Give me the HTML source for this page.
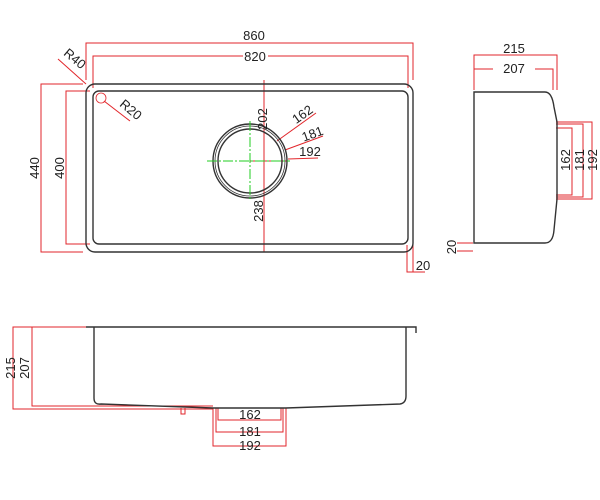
<!DOCTYPE html>
<html><head><meta charset="utf-8"><style>body{margin:0;background:#fff}svg{display:block}text{font-family:"Liberation Sans",sans-serif;font-size:13px;fill:#222}</style></head><body>
<svg width="600" height="500" viewBox="0 0 600 500">
<g fill="none" stroke="#e2262b" stroke-width="1">
<!-- top view dims -->
<path d="M86 80V43H413V80"/>
<path d="M93 88V56H243M268 56H408V88"/>
<path d="M83 84H41V252H83"/>
<path d="M90 91H66V244H90"/>
<path d="M58 59L86 84"/>
<path d="M104 101L130 121"/>
<path d="M264 80V252"/>
<path d="M250 161H290"/>
<path d="M277 141L316 113M285 150L323 136M288 159L318 158"/>
<path d="M407 245V272H425M413 245V272"/>
<!-- side view dims -->
<path d="M474 90V55H557V90"/>
<path d="M474 69H493M535 69H553V90"/>
<path d="M556 128H572V195H556M556 124H583V197H556M556 122H592V199H556"/>
<path d="M473 243H457M473 251H457"/>
<!-- front dims -->
<path d="M86 327H13V409H213"/>
<path d="M94 327H32V406H213"/>
<path d="M218 408V420H281V408"/>
<path d="M216 408V432H283V408"/>
<path d="M213 408V446H286V408"/>
<path d="M181 408v6h4v-6"/>
</g>
<g fill="none" stroke="#333" stroke-width="1.4">
<rect x="86" y="84" width="327" height="168" rx="9"/>
<rect x="93" y="91" width="315" height="153" rx="6"/>
<circle cx="250" cy="161" r="37"/>
<circle cx="250" cy="161" r="35" stroke-width="0.8"/>
<circle cx="250" cy="161" r="32"/>
<circle cx="101" cy="98" r="5" stroke="#e2262b" stroke-width="0.8"/>
<path d="M474 92V243H545Q553 243 554 230L557 199V122L554 107Q552 92 545 92Z"/>
<path d="M86 327H416V333M94 327V398Q94 405 101 404L213 408H286L400 404Q406 403 406 396V327"/>
</g>
<g stroke="#22cc22" stroke-width="1" stroke-dasharray="10 2 2 2">
<path d="M207 161H290M250 121V200"/>
</g>
<text x="254" y="40" text-anchor="middle">860</text>
<text x="255" y="61" text-anchor="middle">820</text>
<text transform="translate(72 62) rotate(40)" text-anchor="middle">R40</text>
<text transform="translate(128 113) rotate(40)" text-anchor="middle">R20</text>
<text transform="translate(39 168) rotate(-90)" text-anchor="middle">440</text>
<text transform="translate(64 168) rotate(-90)" text-anchor="middle">400</text>
<text transform="translate(267 119) rotate(-90)" text-anchor="middle">202</text>
<text transform="translate(263 211) rotate(-90)" text-anchor="middle">238</text>
<text transform="translate(305 118) rotate(-35)" text-anchor="middle">162</text>
<text transform="translate(314 138) rotate(-20)" text-anchor="middle">181</text>
<text x="310" y="156" text-anchor="middle">192</text>
<text x="423" y="270" text-anchor="middle">20</text>
<text x="514" y="53" text-anchor="middle">215</text>
<text x="514" y="73" text-anchor="middle">207</text>
<text transform="translate(570 160) rotate(-90)" text-anchor="middle">162</text>
<text transform="translate(584 160) rotate(-90)" text-anchor="middle">181</text>
<text transform="translate(597 160) rotate(-90)" text-anchor="middle">192</text>
<text transform="translate(456 247) rotate(-90)" text-anchor="middle">20</text>
<text transform="translate(15 368) rotate(-90)" text-anchor="middle">215</text>
<text transform="translate(29 368) rotate(-90)" text-anchor="middle">207</text>
<text x="250" y="419" text-anchor="middle">162</text>
<text x="250" y="436" text-anchor="middle">181</text>
<text x="250" y="450" text-anchor="middle">192</text>
</svg>
</body></html>
